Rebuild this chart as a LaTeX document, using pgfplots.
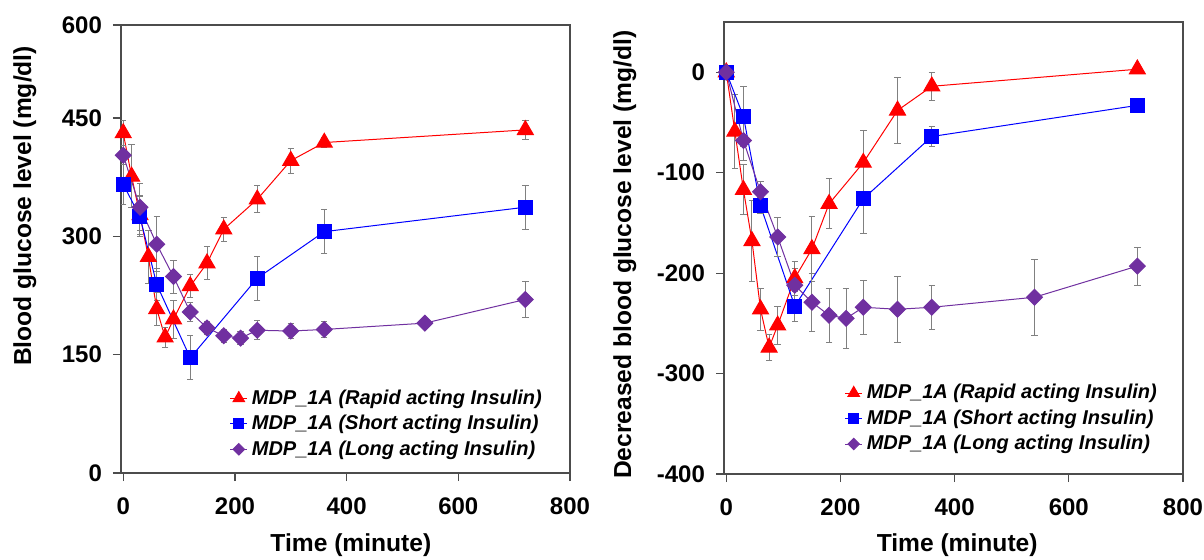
\documentclass[border=0pt]{standalone}
\usepackage{fontspec}
\setmainfont{Liberation Sans}
\usepackage{pgfplots}
\usepackage{pgfplotstable}
\pgfplotsset{compat=1.18}

\definecolor{cRapid}{RGB}{255,0,0}
\definecolor{cShort}{RGB}{0,0,255}
\definecolor{cLong}{RGB}{112,48,160}
\definecolor{cErr}{RGB}{128,128,128}

% left panel: blood glucose level (mg/dl)
\pgfplotstableread{
t v e
0 431 16
15 376 40
30 327 25
45 274 34
60 208 21
75 172 13
90 195 24
120 237 15
150 266 21
180 309 15
240 347 17
300 396 16
360 419 6
720 435 12
}\tblLRapid
\pgfplotstableread{
t v e
0 366 25
30 325 25
60 239 20
120 146 28
240 247 28
360 306 28
720 337 28
}\tblLShort
\pgfplotstableread{
t v e
0 403 30
30 337 30
60 290 35
90 249 21
120 204 12
150 184 8
180 174 8
210 171 8
240 181 12
300 180 10
360 182 10
540 190 6
720 220 23
}\tblLLong

% right panel: decreased blood glucose level (mg/dl)
\pgfplotstableread{
t v e
0 0 0
15 -59 37
30 -117 25
45 -168 40
60 -236 21
75 -274 13
90 -252 19
120 -205 17
150 -176 32
180 -131 25
240 -90 32
300 -38 33
360 -14 14
720 3 2
}\tblRRapid
\pgfplotstableread{
t v e
0 0 0
30 -44 30
60 -133 8
120 -233 15
240 -126 35
360 -64 10
720 -33 3
}\tblRShort
\pgfplotstableread{
t v e
0 0 0
30 -68 20
60 -119 10
90 -164 19
120 -212 17
150 -229 29
180 -242 27
210 -245 30
240 -234 27
300 -236 33
360 -234 22
540 -224 38
720 -193 19
}\tblRLong

\pgfplotsset{
  insulin/.style={
    scale only axis,
    axis line style={draw=black!70, line width=0.6pt},
    tick align=outside, major tick length=4pt,
    xtick pos=bottom, ytick pos=left,
    tick style={draw=black!70, line width=0.6pt},
    tick label style={font=\bfseries\fontsize{12}{14}\selectfont},
    label style={font=\bfseries\fontsize{12.3}{14}\selectfont},
    /pgf/number format/assume math mode=true,
    xticklabel style={yshift=-5pt},
    yticklabel style={xshift=-2pt},
    xmin=-4, xmax=800, xtick={0,200,...,800},
    xlabel={Time (minute)},
    legend style={draw=none, fill=none, anchor=north west,
      font=\bfseries\itshape\fontsize{10}{12}\selectfont},
    legend cell align=left,
    legend image code/.code={
      \draw[mark repeat=2, mark phase=2, #1, every mark/.append style={scale=0.72}]
        plot coordinates {(0cm,0cm) (0.15cm,0cm) (0.3cm,0cm)};
    },
    error bars/y dir=both, error bars/y explicit,
    error bars/error bar style={cErr, line width=0.5pt},
    error bars/error mark options={cErr, rotate=90, mark size=1.6pt, line width=0.5pt},
  },
  sRapid/.style={cRapid, line width=0.5pt, mark=triangle*, mark size=4.6pt,
    mark options={fill=cRapid, draw=cRapid}},
  sShort/.style={cShort, line width=0.5pt, mark=square*, mark size=3.5pt,
    mark options={fill=cShort, draw=cShort}},
  sLong/.style={cLong, line width=0.5pt, mark=square*, mark size=2.8pt,
    mark options={fill=cLong, draw=cLong, rotate=45}},
}

\begin{document}
\begin{tikzpicture}
\useasboundingbox (-60.5pt,-43pt) rectangle (541.5pt,236.5pt);

\begin{axis}[insulin,
  at={(0pt,0pt)}, anchor=south west,
  width=224.5pt, height=224pt,
  ymin=0, ymax=568,
  ytick={0,150,300,450,568}, yticklabels={0,150,300,450,600},
  ylabel={Blood glucose level (mg/dl)},
  ylabel style={at={(axis description cs:-0.214,0.596)}, anchor=center},
  xlabel style={at={(axis description cs:0.512,-0.161)}, anchor=center},
  legend style={at={(axis description cs:0.228,0.205)}},
]
\addplot[sRapid] table[x=t, y=v, y error=e] {\tblLRapid};
\addlegendentry{MDP\_1A (Rapid acting Insulin)}
\addplot[sShort] table[x=t, y=v, y error=e] {\tblLShort};
\addlegendentry{MDP\_1A (Short acting Insulin)}
\addplot[sLong] table[x=t, y=v, y error=e] {\tblLLong};
\addlegendentry{MDP\_1A (Long acting Insulin)}
\end{axis}

\begin{axis}[insulin,
  at={(301.5pt,-0.5pt)}, anchor=south west,
  width=229.5pt, height=226pt,
  ymin=-400, ymax=50,
  ytick={-400,-300,...,0},
  ylabel={Decreased blood glucose level (mg/dl)},
  ylabel style={at={(axis description cs:-0.216,0.485)}, anchor=center},
  xlabel style={at={(axis description cs:0.508,-0.157)}, anchor=center},
  legend style={at={(axis description cs:0.249,0.217)}},
]
\addplot[sRapid] table[x=t, y=v, y error=e] {\tblRRapid};
\addlegendentry{MDP\_1A (Rapid acting Insulin)}
\addplot[sShort] table[x=t, y=v, y error=e] {\tblRShort};
\addlegendentry{MDP\_1A (Short acting Insulin)}
\addplot[sLong] table[x=t, y=v, y error=e] {\tblRLong};
\addlegendentry{MDP\_1A (Long acting Insulin)}
\end{axis}
\end{tikzpicture}
\end{document}
